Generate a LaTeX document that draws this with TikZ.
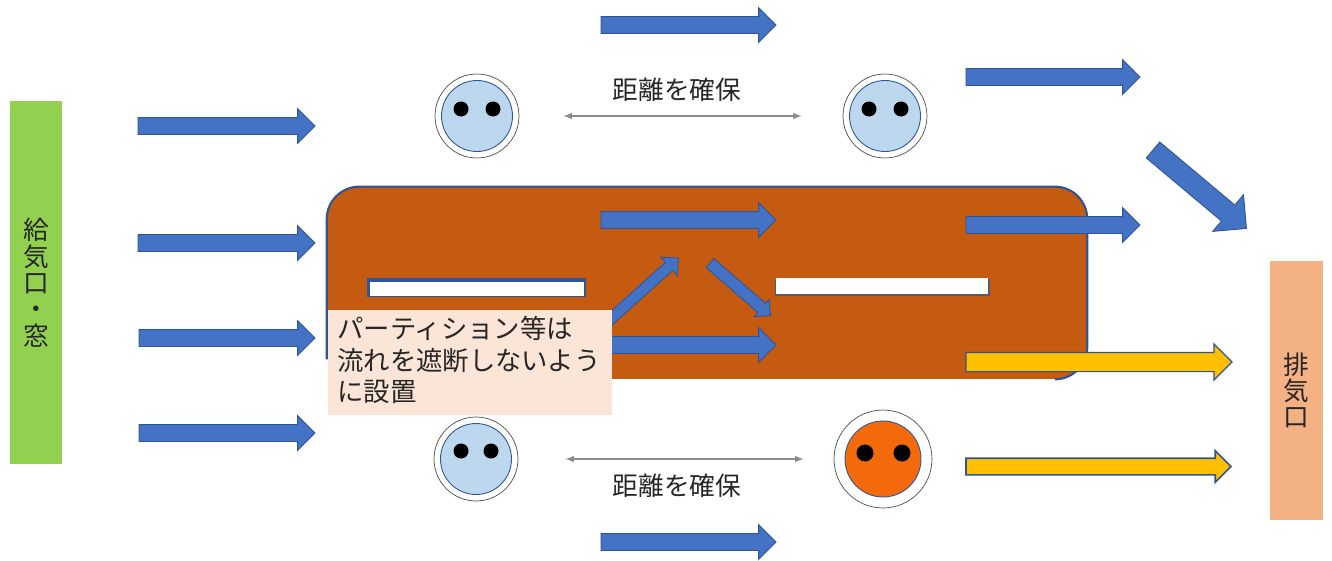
\documentclass[tikz,border=0pt]{standalone}
\usepackage{fontspec}
\setmainfont{Noto Sans CJK JP}
\usepackage{tikz}
\usetikzlibrary{shapes, shapes.arrows, arrows, calc, positioning}

\definecolor{flowblue}{HTML}{4472C4}
\definecolor{flowedge}{HTML}{2F5597}
\definecolor{tableorange}{HTML}{C55A11}
\definecolor{facered}{HTML}{F46A0A}
\definecolor{faceblue}{HTML}{BDD7EE}
\definecolor{flowyellow}{HTML}{FFC000}
\definecolor{inletgreen}{HTML}{92D050}
\definecolor{outletorange}{HTML}{F4B183}
\definecolor{notepeach}{HTML}{FBE5D6}

\tikzset{
  flow/.style={single arrow, draw=flowedge, fill=flowblue, line width=0.5pt, inner xsep=0pt, inner ysep=0.16cm, outer sep=0pt,
    single arrow head extend=0.18cm, minimum height=#1*0.02cm, anchor=tail},
  dirty/.style={flow=#1, fill=flowyellow, line width=0.7pt, inner ysep=0.18cm, single arrow head extend=0.17cm},
  ring/.style={circle, draw=black!70, line width=0.4pt, fill=white, inner sep=0pt, minimum size=#1*0.04cm},
  face/.style={circle, draw=flowedge, fill=faceblue, line width=0.5pt, inner sep=0pt, minimum size=1.42cm},
  eye/.style={circle, fill=black, inner sep=0pt, minimum size=0.3cm},
  gap/.style={<->, >=latex, draw=black!45, line width=0.7pt},
  bar/.style={fill=white, inner sep=0pt},
  label/.style={font=\fontsize{14.6}{15}\selectfont, text=black!85, inner sep=0pt, align=center},
}

\begin{document}
\begin{tikzpicture}[x=0.02cm, y=-0.02cm, >=latex]
\useasboundingbox (0,0) rectangle (1332,561);

% inlet and outlet
\node[fill=inletgreen, minimum width=1.04cm, minimum height=7.26cm, inner sep=0pt] (inlet) at (36,282.5) {};
\node[fill=outletorange, minimum width=1.06cm, minimum height=5.18cm, inner sep=0pt] (outlet) at (1296.5,390.5) {};
\node[label] (inlet-text) at (inlet) {給\\気\\口\\・\\窓};
\node[label] (outlet-text) at (outlet) {排\\気\\口};

% table
\node[fill=tableorange, rounded corners=0.65cm, minimum width=15.2cm, minimum height=3.84cm, inner sep=0pt] (table) at (707,283) {};
\draw[flowedge, line width=1.2pt, rounded corners=0.65cm] ([xshift=-0.6cm]table.south east) -- (table.south east) -- (table.north east) -- (table.north west) -- ([yshift=0.4cm]table.south west);
\node[bar, fill=flowedge, minimum width=4.38cm, minimum height=0.38cm] (edge-left) at (476.5,287.5) {};
\node[bar, minimum width=4.28cm, minimum height=0.28cm] (bar-left) at (477,289) {};
\node[bar, fill=flowedge!70!tableorange, minimum width=4.3cm, minimum height=0.34cm] (edge-right) at (882.5,287.5) {};
\node[bar, minimum width=4.26cm, minimum height=0.32cm] (bar-right) at (882,286) {};

% air flow
\node[flow=177] (in-a) at (138,126) {};
\node[flow=177] (in-b) at (138,243) {};
\node[flow=176] (in-c) at (139,338) {};
\node[flow=176] (in-d) at (139,433) {};
\node[flow=175] (top-a) at (601,25) {};
\node[flow=174] (top-b) at (966,77) {};
\node[flow=175] (mid-a) at (601,220) {};
\node[flow=174] (mid-b) at (966,225) {};
\node[flow=186] (mid-c) at (590,345) {};
\node[flow=175] (low-a) at (601,542) {};
\node[flow=122, rotate=-40, inner ysep=0.2cm, single arrow head extend=0.27cm] (turn) at (1153,150) {};
\node[flow=100, rotate=42, inner ysep=0.1cm, single arrow head extend=0.14cm] (up) at (604,325) {};
\node[flow=80, rotate=-41, inner ysep=0.11cm, single arrow head extend=0.11cm] (down) at (710,263) {};
\node[dirty=266] (out-a) at (966,362) {};
\node[dirty=265, line width=0.9pt, inner ysep=0.15cm, single arrow head extend=0.15cm] (out-b) at (966,466.5) {};

% people
\node[ring=42] (ring-tl) at (477,116) {};
\node[face] (face-tl) at (477,116) {};
\node[eye, xshift=-0.32cm, yshift=0.14cm] (eye-tl-a) at (face-tl) {};
\node[eye, xshift=0.32cm, yshift=0.14cm] (eye-tl-b) at (face-tl) {};

\node[ring=42] (ring-tr) at (885,116) {};
\node[face] (face-tr) at (885,116) {};
\node[eye, xshift=-0.32cm, yshift=0.14cm] (eye-tr-a) at (face-tr) {};
\node[eye, xshift=0.32cm, yshift=0.14cm] (eye-tr-b) at (face-tr) {};

\node[ring=42] (ring-bl) at (476,459) {};
\node[face] (face-bl) at (476,459) {};
\node[eye, xshift=-0.3cm, yshift=0.16cm] (eye-bl-a) at (face-bl) {};
\node[eye, xshift=0.3cm, yshift=0.16cm] (eye-bl-b) at (face-bl) {};

\node[ring=49] (ring-br) at (883,459) {};
\node[face, fill=facered, minimum size=1.52cm] (face-br) at (883,459) {};
\node[eye, xshift=-0.36cm, yshift=0.12cm, minimum size=0.34cm] (eye-br-a) at (face-br) {};
\node[eye, xshift=0.38cm, yshift=0.12cm, minimum size=0.34cm] (eye-br-b) at (face-br) {};

% distance
\draw[gap, shorten <=0.88cm, shorten >=0.82cm] (ring-tl) -- (ring-tr);
\draw[gap, shorten <=0.94cm, shorten >=0.6cm] (ring-bl) -- (ring-br);
\node[label] (gap-top) at (677,90) {距離を確保};
\node[label] (gap-low) at (677,486) {距離を確保};

% partition note
\node[fill=notepeach, minimum width=5.68cm, minimum height=2.1cm, inner sep=0pt] (note) at (470,362.5) {};
\node[inner sep=0pt, font=\fontsize{15}{18.1}\selectfont, text=black!85, align=left, anchor=west] (note-text) at (337,360) {パーティション等は\\流れを遮断しないよう\\に設置};

\end{tikzpicture}
\end{document}
